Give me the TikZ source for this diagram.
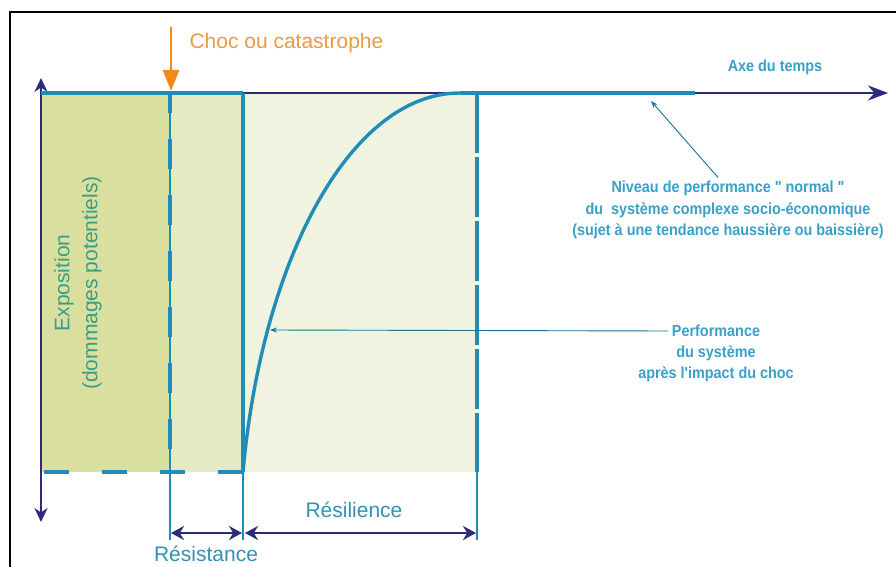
\documentclass[tikz,border=0pt]{standalone}
\usepackage{fontspec}
\setmainfont{Liberation Sans}
\newfontfamily\etroit[FakeStretch=0.9]{Liberation Sans}
\usepackage{xcolor}
\usepackage{tikz}
\usetikzlibrary{arrows.meta}

\definecolor{navy}{HTML}{2D2A78}
\definecolor{bleu}{HTML}{1F8DB8}
\definecolor{orangec}{HTML}{EE8A1E}
\definecolor{orangetxt}{HTML}{E99A45}
\definecolor{txtbleu}{HTML}{3AA0C8}
\definecolor{txtvert}{HTML}{3A9E86}
\definecolor{zoneA}{HTML}{D9DF9F}
\definecolor{zoneB}{HTML}{E5EAC4}
\definecolor{zoneC}{HTML}{F0F3E0}

\begin{document}
\begin{tikzpicture}[x=1pt,y=-1pt,
	axe/.style={navy,line width=2.4pt},
	bord/.style={bleu,line width=3.4pt},
	fin/.style={bleu,line width=1.1pt},
	fleche/.style={navy,line width=2.8pt,{Stealth[length=13pt,width=14pt]}-{Stealth[length=13pt,width=14pt]}},
	pointe/.style={bleu!80!black,line width=0.9pt,-{Stealth[length=7pt,width=5pt]}},
	grand/.style={font=\fontsize{21}{28}\selectfont},
	petit/.style={font=\etroit\fontsize{16}{21.5}\selectfont\bfseries,txtbleu,align=center}]
	\useasboundingbox (0,0) rectangle (896,567);
	\fill[white] (0,0) rectangle (896,567);
	\draw[black,line width=2.2pt] (10,567) -- (10,12) -- (896,12);
%zones
	\fill[zoneA] (41,93) rectangle (170,472);
	\fill[zoneB] (170,93) rectangle (243,472);
	\fill[zoneC] (243,93) rectangle (477,472);
%textes
	\node[grand,orangetxt,anchor=west] at (186,43) (1) {Choc ou catastrophe};
	\node[petit] at (775,67) (2) {Axe du temps};
	\node[petit] at (728,210) (3) {Niveau de performance " normal "\\du\ \ système complexe socio-économique\\(sujet à une tendance haussière ou baissière)};
	\node[petit] at (716,331) (4) {Performance};
	\node[petit] at (716,353) (5) {du système};
	\node[petit] at (716,374) (6) {après l'impact du choc};
	\node[grand,txtbleu!90!black] at (354,510) (7) {Résilience};
	\node[grand,txtbleu!90!black] at (206,554) (8) {Résistance};
	\node[grand,txtvert,rotate=90,align=center] at (78,283) (9) {Exposition\\(dommages potentiels)};
%points
	\coordinate (o) at (41,93);
	\coordinate (h) at (41,78);
	\coordinate (b) at (41,522);
	\coordinate (t) at (888,93);
	\coordinate (c1) at (171,27);
	\coordinate (c2) at (171,91);
	\coordinate (r1) at (170,93);
	\coordinate (r2) at (170,472);
	\coordinate (s1) at (243,93);
	\coordinate (s2) at (243,472);
	\coordinate (e1) at (477,93);
	\coordinate (e2) at (477,472);
	\coordinate (g) at (41,472);
	\coordinate (f1) at (460,93);
	\coordinate (f2) at (695,93);
	\coordinate (n) at (651,101);
	\coordinate (p) at (270,330);
%axes
	\draw[axe,{Stealth[length=14pt,width=13pt]}-{Stealth[length=14pt,width=13pt]}] (h) -- (b);
	\draw[axe,-{Stealth[length=20pt,width=15pt]}] (o) -- (t);
	\draw[orangec,line width=2.6pt,-{Triangle[length=21pt,width=16pt]}] (c1) -- (c2);
%bords
	\draw[bord] (o) -- (s1);
	\draw[bord] (f1) -- (f2);
	\draw[bord,dash pattern=on 25pt off 33pt] (s2) -- (g);
	\draw[fin] (r1) -- (170,540);
	\draw[bord,dash pattern=on 30pt off 26pt,dash phase=10pt] (r1) -- (r2);
	\draw[bord] (s1) -- (s2);
	\draw[fin] (s2) -- (243,540);
	\draw[bord,dash pattern=on 60pt off 4pt] (e1) -- (e2);
	\draw[fin] (e2) -- (477,540);
	\draw[bord,line cap=round] (s2) .. controls (262,260) and (350,93) .. (f1);
%fleches
	\draw[fleche] (171,533) -- (242,533);
	\draw[fleche] (245,533) -- (476,533);
	\draw[pointe] ([xshift=-10pt]3.north) -- (n);
	\draw[pointe] (4.west) -- (p);
\end{tikzpicture}
\end{document}
